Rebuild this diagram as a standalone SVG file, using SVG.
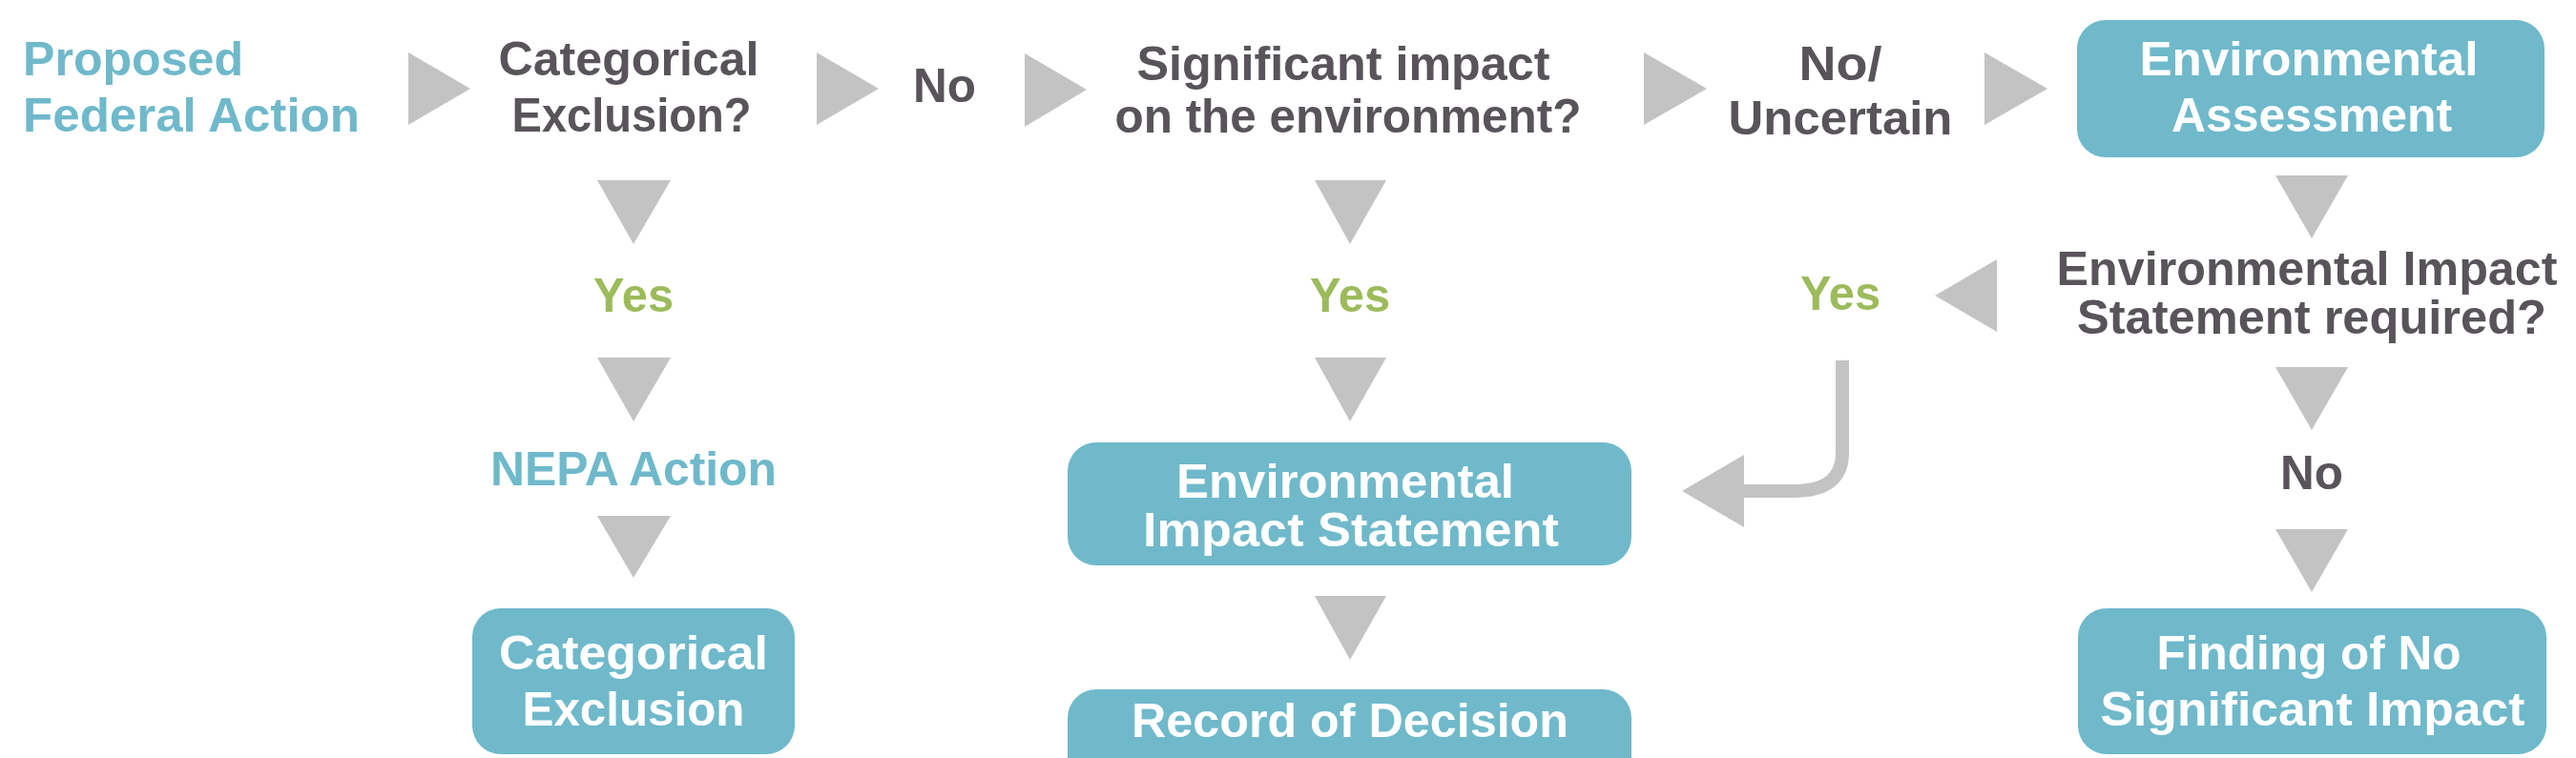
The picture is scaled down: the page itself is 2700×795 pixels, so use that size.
<svg xmlns="http://www.w3.org/2000/svg" width="2700" height="795" viewBox="0 0 2700 795">
<style>
text{font-family:"Liberation Sans",Arial,sans-serif;font-weight:bold;font-size:50px;text-anchor:middle}
.t{fill:#6fb9cb}.d{fill:#58545a}.g{fill:#9cbb5b}.w{fill:#ffffff}
.box{fill:#6fb9cb}
.tri{fill:#c3c3c3}
.ln{fill:none;stroke:#c3c3c3;stroke-width:14}
</style>
<rect width="2700" height="795" fill="#fff"/>
<g id="connectors">
<polygon class="tri" points="428,55 493,93 428,131"/>
<polygon class="tri" points="856,55 921,93 856,131"/>
<polygon class="tri" points="1074,56 1139,94 1074,133"/>
<polygon class="tri" points="1723,55 1789,93 1723,131"/>
<polygon class="tri" points="2080,55 2146,93 2080,131"/>
<polygon class="tri" points="626,189 703,189 664,256"/>
<polygon class="tri" points="626,375 703,375 664,442"/>
<polygon class="tri" points="626,541 703,541 664,606"/>
<polygon class="tri" points="1378,189 1453,189 1415,256"/>
<polygon class="tri" points="1378,375 1453,375 1415,442"/>
<polygon class="tri" points="1378,625 1453,625 1415,692"/>
<polygon class="tri" points="2385,184 2461,184 2423,250"/>
<polygon class="tri" points="2385,385 2461,385 2423,451"/>
<polygon class="tri" points="2385,555 2461,555 2423,621"/>
<polygon class="tri" points="2093,272 2028,310 2093,348"/>
<path class="ln" d="M1931,378 V475 Q1931,515 1880,515 H1826"/>
<polygon class="tri" points="1828,477 1763,515 1828,553"/>
</g>
<g id="proposed"><text class="t" x="24" y="79" style="text-anchor:start" textLength="231" lengthAdjust="spacingAndGlyphs">Proposed</text><text class="t" x="24" y="138" style="text-anchor:start" textLength="353" lengthAdjust="spacingAndGlyphs">Federal Action</text></g>
<g id="ce-q"><text class="d" x="659" y="79" textLength="273" lengthAdjust="spacingAndGlyphs">Categorical</text><text class="d" x="662" y="138" textLength="251" lengthAdjust="spacingAndGlyphs">Exclusion?</text></g>
<g id="no1"><text class="d" x="990" y="107" textLength="66" lengthAdjust="spacingAndGlyphs">No</text></g>
<g id="sig-q"><text class="d" x="1408" y="84" textLength="433" lengthAdjust="spacingAndGlyphs">Significant impact</text><text class="d" x="1413" y="139" textLength="489" lengthAdjust="spacingAndGlyphs">on the environment?</text></g>
<g id="no-unc"><text class="d" x="1929" y="84" textLength="87" lengthAdjust="spacingAndGlyphs">No/</text><text class="d" x="1929" y="141" textLength="235" lengthAdjust="spacingAndGlyphs">Uncertain</text></g>
<g id="ea"><rect class="box" x="2177" y="21" width="490" height="144" rx="30"/><text class="w" x="2420" y="79" textLength="355" lengthAdjust="spacingAndGlyphs">Environmental</text><text class="w" x="2423" y="138" textLength="294" lengthAdjust="spacingAndGlyphs">Assessment</text></g>
<g id="yes1"><text class="g" x="664" y="327" textLength="84" lengthAdjust="spacingAndGlyphs">Yes</text></g>
<g id="yes2"><text class="g" x="1415" y="327" textLength="84" lengthAdjust="spacingAndGlyphs">Yes</text></g>
<g id="yes3"><text class="g" x="1929" y="325" textLength="84" lengthAdjust="spacingAndGlyphs">Yes</text></g>
<g id="eis-q"><text class="d" x="2418" y="299" textLength="525" lengthAdjust="spacingAndGlyphs">Environmental Impact</text><text class="d" x="2423" y="350" textLength="492" lengthAdjust="spacingAndGlyphs">Statement required?</text></g>
<g id="nepa"><text class="t" x="664" y="509" textLength="300" lengthAdjust="spacingAndGlyphs">NEPA Action</text></g>
<g id="no2"><text class="d" x="2423" y="513" textLength="66" lengthAdjust="spacingAndGlyphs">No</text></g>
<g id="eis"><rect class="box" x="1119" y="464" width="591" height="129" rx="30"/><text class="w" x="1410" y="522" textLength="354" lengthAdjust="spacingAndGlyphs">Environmental</text><text class="w" x="1416" y="573" textLength="436" lengthAdjust="spacingAndGlyphs">Impact Statement</text></g>
<g id="ce"><rect class="box" x="495" y="638" width="338" height="153" rx="30"/><text class="w" x="664" y="702" textLength="282" lengthAdjust="spacingAndGlyphs">Categorical</text><text class="w" x="664" y="761" textLength="233" lengthAdjust="spacingAndGlyphs">Exclusion</text></g>
<g id="rod"><rect class="box" x="1119" y="723" width="591" height="110" rx="30"/><text class="w" x="1415" y="773" textLength="458" lengthAdjust="spacingAndGlyphs">Record of Decision</text></g>
<g id="fonsi"><rect class="box" x="2178" y="638" width="491" height="153" rx="30"/><text class="w" x="2420" y="702" textLength="319" lengthAdjust="spacingAndGlyphs">Finding of No</text><text class="w" x="2424" y="761" textLength="445" lengthAdjust="spacingAndGlyphs">Significant Impact</text></g>
</svg>
